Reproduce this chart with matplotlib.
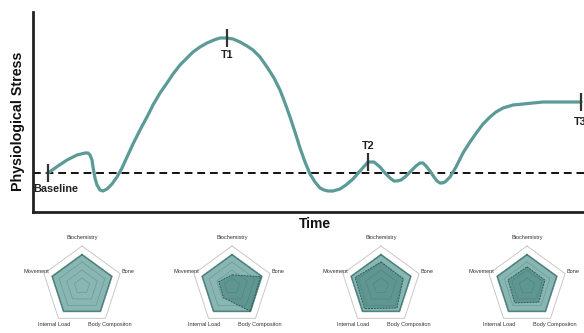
import numpy as np
import matplotlib
matplotlib.use("Agg")
import matplotlib.pyplot as plt

plt.rcParams['font.family'] = ['Liberation Sans', 'DejaVu Sans']

# ---- data: stress curve (time, stress) ----
time = [15, 25, 34, 44, 52, 55, 57, 59, 60, 62, 64, 67, 70, 74, 79, 84, 89, 94,
        100, 107, 114, 120, 127, 134, 140, 147, 154, 160, 167, 174, 181, 187,
        194, 200, 207, 214, 220, 227, 234, 241, 247, 252, 257, 262, 267, 272,
        277, 282, 287, 291, 295, 300, 307, 313, 320, 327, 335, 341, 347, 352,
        357, 361, 364, 368, 372, 377, 383, 387, 390, 393, 397, 401, 404, 407,
        409, 412, 417, 423, 430, 437, 444, 450, 457, 463, 470, 480, 490, 500,
        510, 520, 530, 540, 548]
stress = [39, 46, 52, 57, 59, 59, 57, 52, 45, 34, 27, 22, 21, 23, 28, 35, 44, 55,
          68, 82, 95, 107, 119, 129, 138, 147, 154, 160, 165, 169, 172, 174,
          174, 173, 170, 166, 162, 155, 145, 134, 122, 109, 95, 80, 64, 50,
          38, 30, 24, 22, 21, 21, 23, 27, 33, 41, 50, 50, 45, 39,
          34, 31, 31, 32, 35, 40, 46, 49, 49, 46, 41, 35, 31, 29,
          29, 30, 35, 45, 59, 70, 80, 88, 95, 100, 104, 107, 108, 109,
          110, 110, 110, 110, 110]
baseline_level = 39

events = ["Baseline", "T1", "T2", "T3"]
event_time = [15, 194, 335, 548]
event_stress = [39, 174, 50, 110]

# ---- data: radar charts ----
radar_axes = ["Biochemistry", "Bone", "Body Compositon", "Internal Load", "Movement"]
radar_baseline = [0.78, 0.78, 0.78, 0.78, 0.78]
radar_T1 = [0.28, 0.75, 0.78, 0.36, 0.35]
radar_T2 = [0.60, 0.58, 0.68, 0.70, 0.68]
radar_T3 = [0.48, 0.47, 0.50, 0.52, 0.50]
radar_series = [None, radar_T1, radar_T2, radar_T3]

W, H = 584, 333
fig = plt.figure(figsize=(W / 100, H / 100), dpi=100)

teal = '#5b9a96'

# ---- main axes ----
left, right, top, bottom = 33, 584, 12, 212
ax = fig.add_axes([left / W, 1 - bottom / H, (right - left) / W, (bottom - top) / H])
ax.set_xlim(0, right - left)
ax.set_ylim(0, bottom - top)
for s in ['top', 'right']:
    ax.spines[s].set_visible(False)
for s in ['left', 'bottom']:
    ax.spines[s].set_linewidth(2.0)
    ax.spines[s].set_color('#222222')
ax.set_xticks([])
ax.set_yticks([])
ax.patch.set_alpha(0)

ax.axhline(baseline_level, color='#111111', lw=1.4, ls=(0, (4, 2.5)), zorder=1)
ax.plot(time, stress, color=teal, lw=2.3, solid_joinstyle='round',
        solid_capstyle='round', zorder=3)
ax.plot(event_time, event_stress, ls='none', marker='|', ms=13, mew=1.6,
        color='#333333', zorder=4, clip_on=False)

lab_off = {"Baseline": (-15, -16, 'left'), "T1": (0, -17, 'center'),
           "T2": (0, 16, 'center'), "T3": (-1, -20, 'center')}
for name, tx, sy in zip(events, event_time, event_stress):
    dx, dy, ha = lab_off[name]
    ax.text(tx + dx, sy + dy, name, ha=ha, va='center', fontsize=7.8,
            fontweight='bold', color='#222222', clip_on=False)

fig.text(315 / W, 1 - 224 / H, "Time", ha='center', va='center',
         fontsize=10, fontweight='bold', color='#111111')
fig.text(18 / W, 1 - 121 / H, "Physiological Stress", ha='center', va='center',
         rotation=90, fontsize=10.3, fontweight='bold', color='#111111')

# ---- radar overlay ----
rax = fig.add_axes([0, 0, 1, 1])
rax.set_xlim(0, W)
rax.set_ylim(H, 0)
rax.axis('off')
rax.patch.set_alpha(0)

centers = [(82, 286), (232, 286), (381, 286), (527, 286)]
R = 40
n = len(radar_axes)
ang = np.pi / 2 - 2 * np.pi * np.arange(n) / n
ux, uy = np.cos(ang), -np.sin(ang)


def poly(cx, cy, vals):
    v = np.asarray(vals)
    xs = cx + R * v * ux
    ys = cy + R * v * uy
    return np.append(xs, xs[0]), np.append(ys, ys[0])


for (cx, cy), ser in zip(centers, radar_series):
    xs, ys = poly(cx, cy, [1.0] * n)
    rax.fill(xs, ys, color='white', zorder=1)
    rax.plot(xs, ys, color='#c8c8c8', lw=0.7, zorder=2)
    for lv in [0.2, 0.4, 0.6, 0.8]:
        xs, ys = poly(cx, cy, [lv] * n)
        rax.plot(xs, ys, color='#9a9a9a', lw=0.5, zorder=2)
    xs, ys = poly(cx, cy, radar_baseline)
    rax.fill(xs, ys, color=teal, alpha=0.72, lw=0, zorder=3)
    rax.plot(xs, ys, color='#3f7d78', lw=0.9, zorder=4)
    if ser is not None:
        xs, ys = poly(cx, cy, ser)
        rax.fill(xs, ys, color='#2f6f6a', alpha=0.45, lw=0, zorder=5)
        rax.plot(xs, ys, color='#2f5f5b', lw=0.7, ls=(0, (2, 1)), zorder=6)
    for lab, x_u, y_u in zip(radar_axes, ux, uy):
        rax.text(cx + 1.2 * R * x_u, cy + 1.2 * R * y_u, lab, ha='center',
                 va='center', fontsize=4, color='#333333', zorder=7)

fig.savefig("out.png", dpi=100)
